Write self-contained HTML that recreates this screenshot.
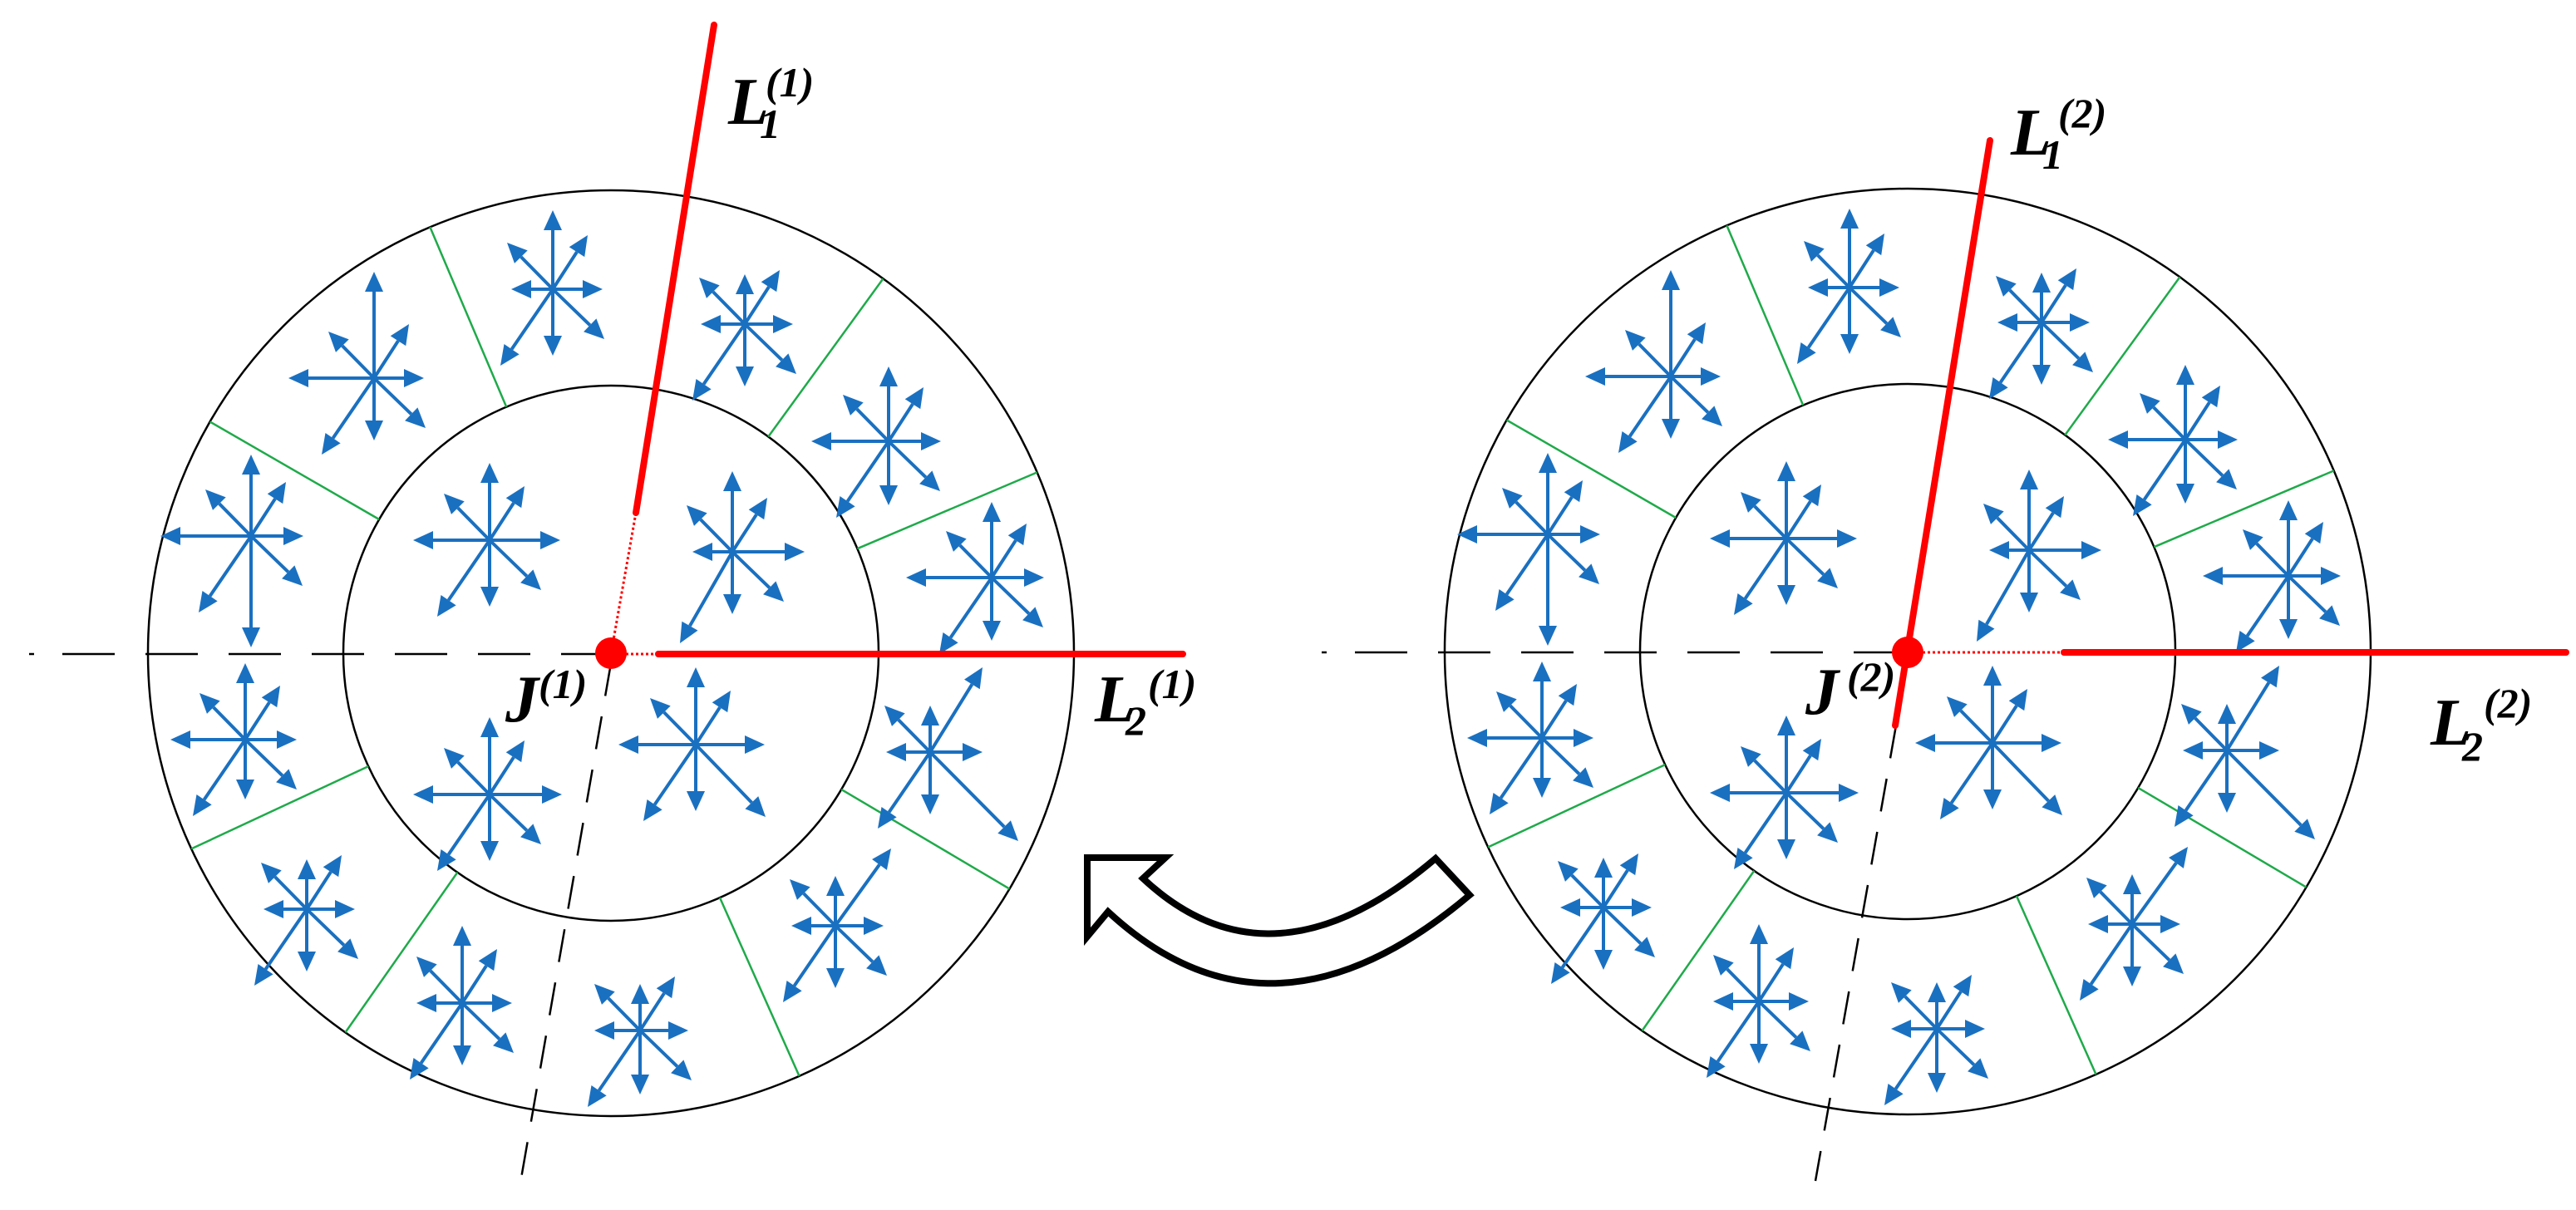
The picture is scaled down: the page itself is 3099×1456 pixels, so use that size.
<!DOCTYPE html>
<html><head><meta charset="utf-8"><style>
html,body{margin:0;padding:0;background:#fff}
svg{display:block}
text{font-family:"Liberation Serif","Times New Roman","DejaVu Serif",serif;font-weight:bold;font-style:italic;fill:#000}
</style></head><body>
<svg id="s" width="3099" height="1456" viewBox="0 0 3099 1456" xmlns="http://www.w3.org/2000/svg">
<defs>
<filter id="sh" x="-20%" y="-20%" width="140%" height="160%"><feGaussianBlur in="SourceAlpha" stdDeviation="6"/><feOffset dx="0" dy="6"/><feComponentTransfer><feFuncA type="linear" slope="0.35"/></feComponentTransfer><feFlood flood-color="#7fa8e0"/><feComposite operator="in" in2="SourceAlpha"/></filter>
</defs>
<g id="circ1"></g>
<g id="circ2" transform="translate(1560,-2)"></g>

<!-- left red/dashed lines -->
<line x1="35" y1="787" x2="41" y2="787" stroke="#000" stroke-width="2.5"/>
<line x1="75" y1="787" x2="735" y2="787" stroke="#000" stroke-width="2.5" stroke-dasharray="63 37"/>
<line x1="735" y1="798" x2="624" y2="1435" stroke="#000" stroke-width="2.5" stroke-dasharray="40 25"/>
<line x1="859" y1="30" x2="765" y2="617" stroke="#f00" stroke-width="8" stroke-linecap="round"/>
<line x1="765" y1="617" x2="735" y2="787" stroke="#f00" stroke-width="3" stroke-dasharray="3 3"/>
<line x1="735" y1="787" x2="792" y2="787" stroke="#f00" stroke-width="3" stroke-dasharray="3 3"/>
<line x1="792" y1="787" x2="1423" y2="787" stroke="#f00" stroke-width="8" stroke-linecap="round"/>
<circle cx="735" cy="786" r="19" fill="#f00"/>

<!-- right -->
<line x1="1590" y1="785" x2="1596" y2="785" stroke="#000" stroke-width="2.5"/>
<line x1="1630" y1="785" x2="2295" y2="785" stroke="#000" stroke-width="2.5" stroke-dasharray="63 37"/>
<line x1="2281" y1="873" x2="2184" y2="1421" stroke="#000" stroke-width="2.5" stroke-dasharray="40 25"/>
<line x1="2394" y1="169" x2="2280" y2="873" stroke="#f00" stroke-width="8" stroke-linecap="round"/>
<line x1="2295" y1="785" x2="2483" y2="785" stroke="#f00" stroke-width="3" stroke-dasharray="3 3"/>
<line x1="2483" y1="785" x2="3087" y2="785" stroke="#f00" stroke-width="8" stroke-linecap="round"/>
<circle cx="2295" cy="785" r="19" fill="#f00"/>

<!-- curved arrow -->
<path d="M1308,1032 L1402,1032 L1375,1057 Q1529,1201 1727,1033 L1768,1077 Q1529,1279 1333,1097 L1308,1127 Z" fill="#fff" stroke="#000" stroke-width="8" filter="url(#sh)"/>
<path d="M1308,1032 L1402,1032 L1375,1057 Q1529,1201 1727,1033 L1768,1077 Q1529,1279 1333,1097 L1308,1127 Z" fill="#fff" stroke="#000" stroke-width="8"/>

<!-- labels -->
<g font-family="Liberation Serif, serif" font-weight="bold" font-style="italic">
<text x="876" y="149" font-size="80">L</text><text x="914" y="166" font-size="50">1</text><text x="921" y="116" font-size="50">(1)</text>
<text x="608" y="868" font-size="80">J</text><text x="648" y="840" font-size="50">(1)</text>
<text x="1317" y="868" font-size="80">L</text><text x="1354" y="884" font-size="50">2</text><text x="1381" y="840" font-size="50">(1)</text>
<text x="2419" y="186" font-size="80">L</text><text x="2457" y="203" font-size="50">1</text><text x="2476" y="153" font-size="50">(2)</text>
<text x="2172" y="859" font-size="80">J</text><text x="2222" y="831" font-size="50">(2)</text>
<text x="2924" y="896" font-size="80">L</text><text x="2962" y="915" font-size="50">2</text><text x="2988" y="863" font-size="50">(2)</text>
</g>
</svg>
<script>
(function(){
var cx=735,cy=786,R=557,r=322;
var angs=[30.6,66,125,155,210,247,306,337];
var stars=[
[665,348,95,60,80,50],[450,455,128,60,75,103],[302,645,98,63,134,109],[295,890,92,62,72,90],
[369,1094,60,58,75,52],[556,1207,93,60,75,55],[770,1240,56,58,77,55],[1005,1114,60,58,75,53,{ne:[67,-93]}],
[1119,905,56,63,75,53,{ne:[63,-102],se:[106,107]}],[1193,695,91,63,76,103],[1069,531,90,63,77,93],[896,390,60,58,75,53],
[589,650,93,85,80,92],[881,664,97,87,75,48,{sw:[-63,110]}],[837,896,93,83,80,93,{se:[84,87]}],[589,956,93,87,80,92]
];
function build(g){
 var h='';
 h+='<circle cx="'+cx+'" cy="'+cy+'" r="'+R+'" fill="none" stroke="#000" stroke-width="2.5"/>';
 h+='<circle cx="'+cx+'" cy="'+cy+'" r="'+r+'" fill="none" stroke="#000" stroke-width="2.5"/>';
 angs.forEach(function(a){var t=a*Math.PI/180,c=Math.cos(t),s=Math.sin(t);
  h+='<line x1="'+(cx+r*c)+'" y1="'+(cy+r*s)+'" x2="'+(cx+R*c)+'" y2="'+(cy+R*s)+'" stroke="#1faa4a" stroke-width="2.5"/>';});
 stars.forEach(function(st){
  var x=st[0],y=st[1],o=st[6]||{};
  var arms=[[0,-st[2]],[st[3],0],[0,st[4]],[-st[5],0],o.ne||[42,-65],o.nw||[-55,-56],o.se||[62,60],o.sw||[-63,92]];
  arms.forEach(function(v){
   var L=Math.hypot(v[0],v[1]),ux=v[0]/L,uy=v[1]/L,px=-uy,py=ux;
   var tx=x+v[0],ty=y+v[1],bx=tx-ux*24,by=ty-uy*24;
   h+='<line x1="'+x+'" y1="'+y+'" x2="'+bx+'" y2="'+by+'" stroke="#1a70c0" stroke-width="4"/>';
   h+='<polygon points="'+tx+','+ty+' '+(bx+px*11)+','+(by+py*11)+' '+(bx-px*11)+','+(by-py*11)+'" fill="#1a70c0"/>';
  });
 });
 g.innerHTML=h;
}
build(document.getElementById('circ1'));
build(document.getElementById('circ2'));
})();
</script>
</body></html>
